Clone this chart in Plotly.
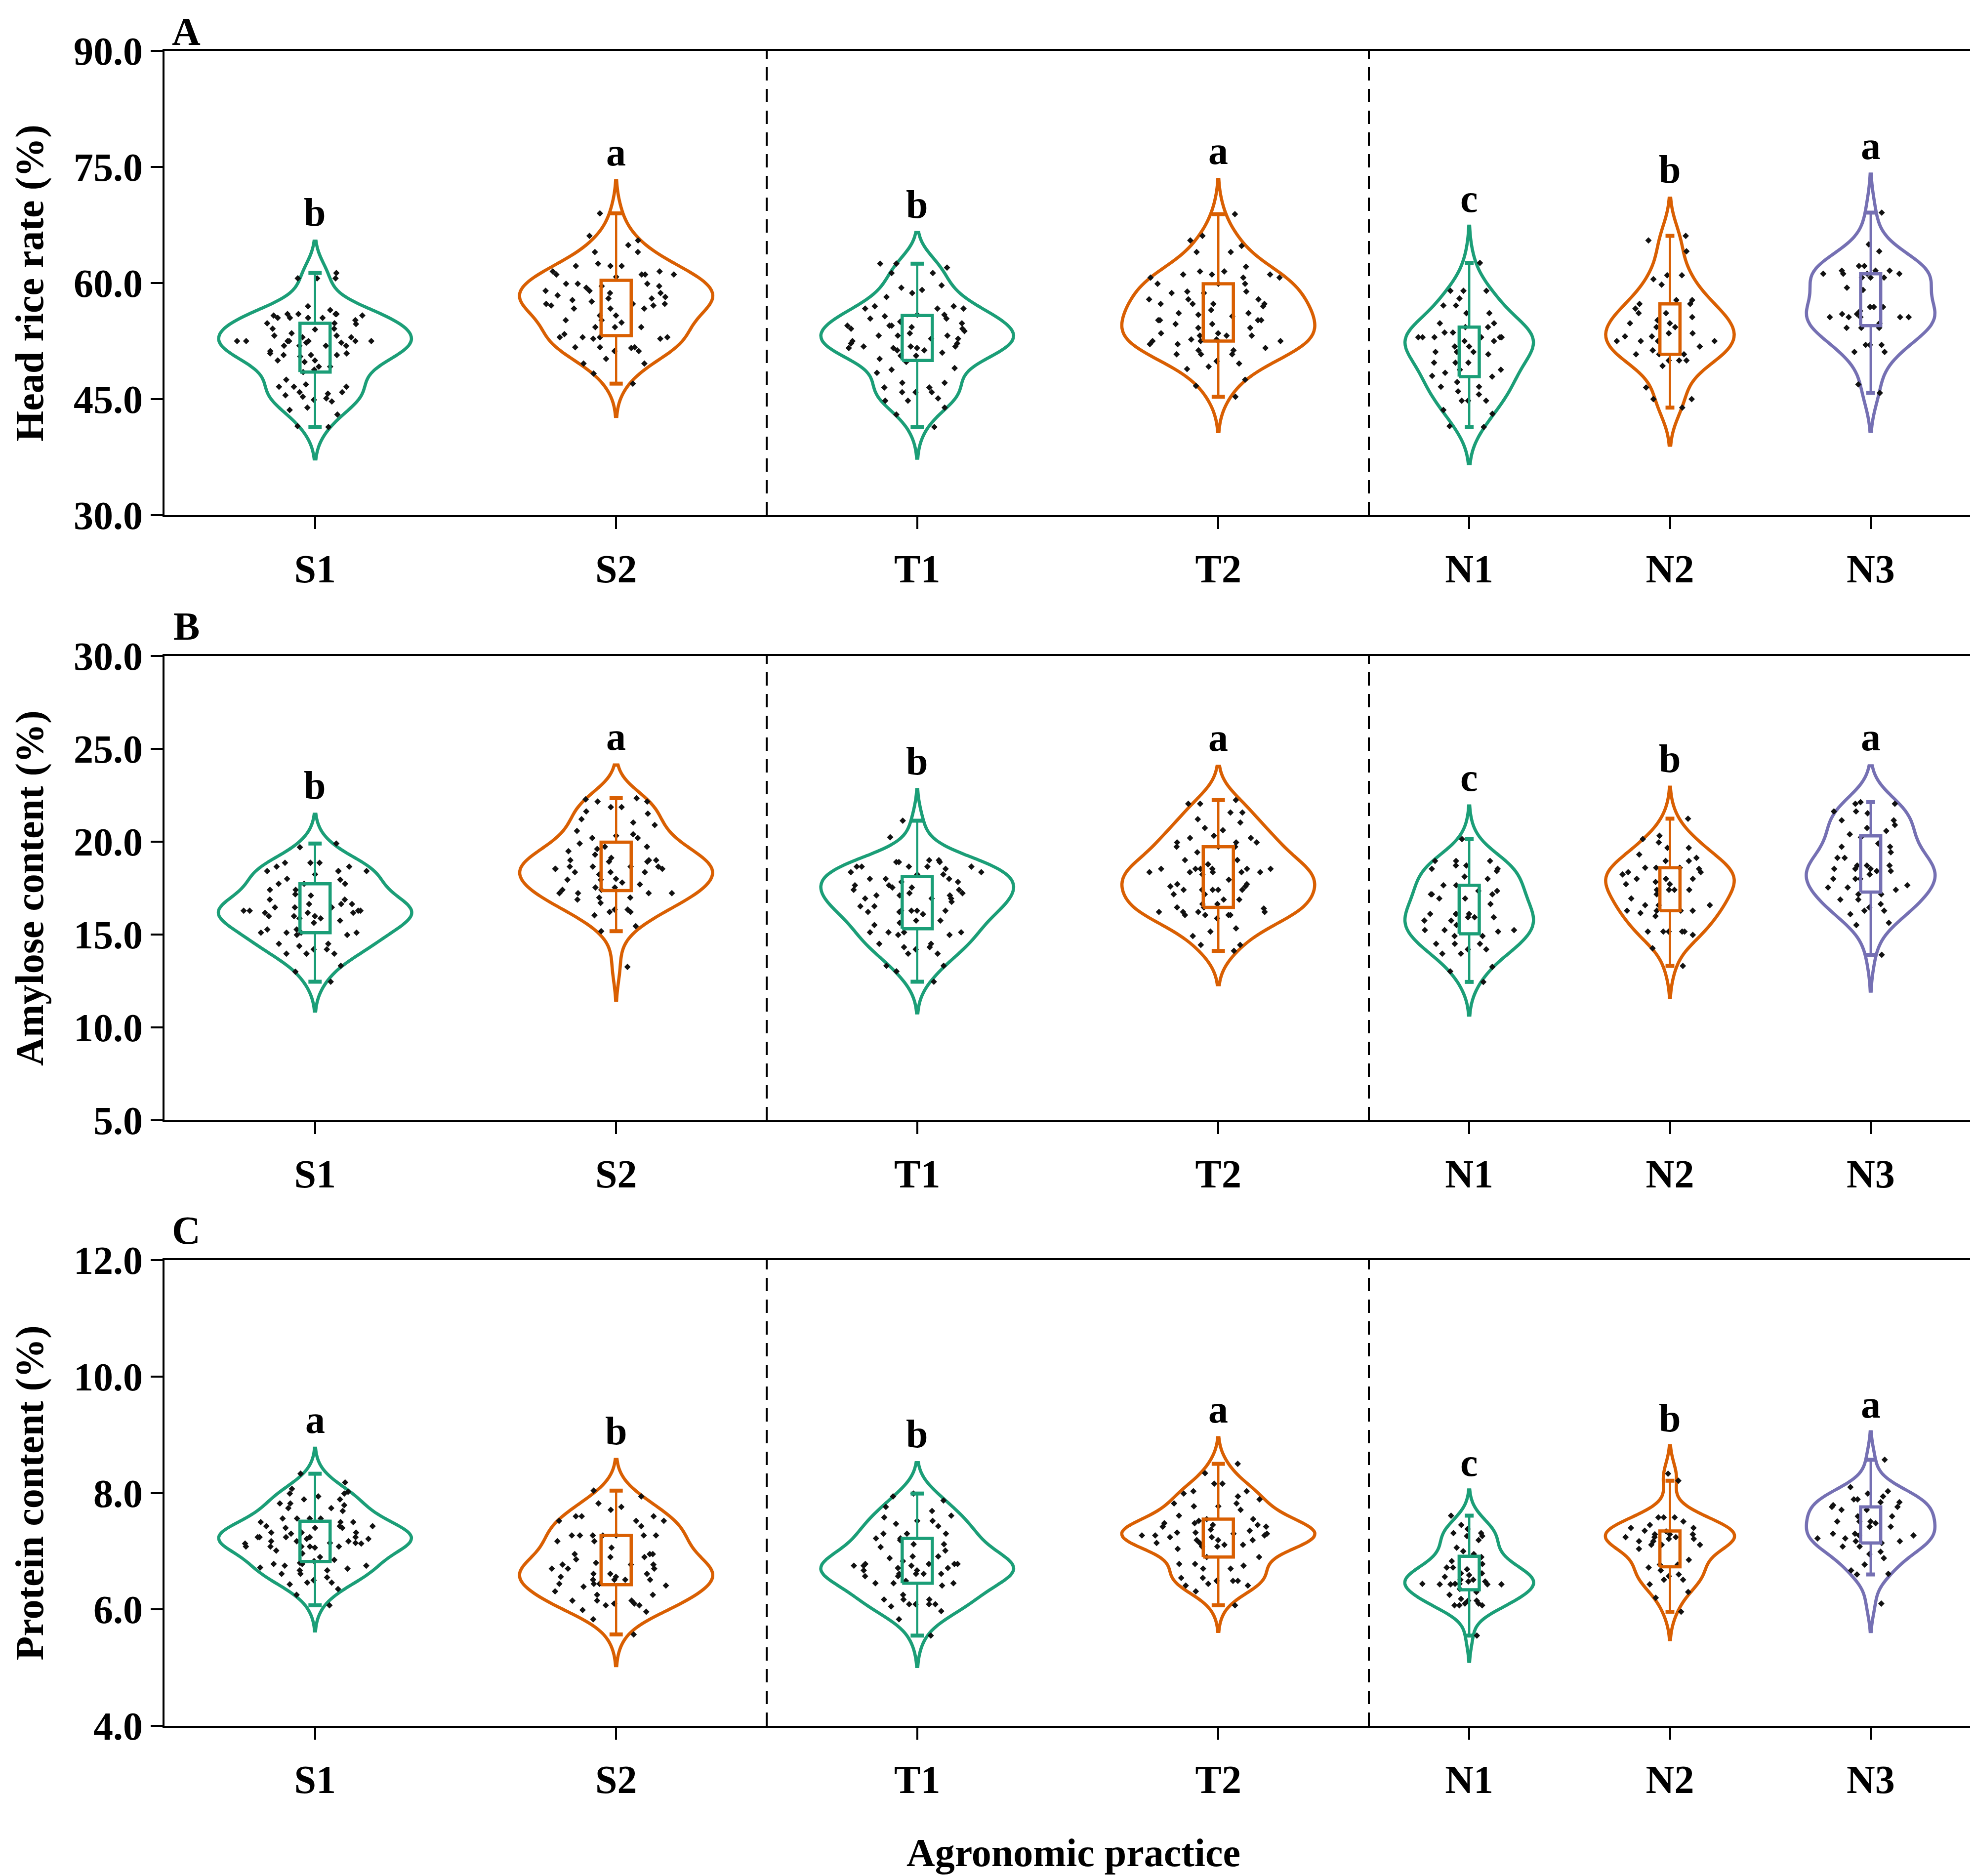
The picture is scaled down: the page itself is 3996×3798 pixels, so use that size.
import numpy as np
import plotly.graph_objects as go

FONT = "Liberation Serif"
OFF = 8                       # the page body margin of the browser
W, H = 3996 - OFF, 3798 - OFF

groups      = ["S1", "S2", "T1", "T2", "N1", "N2", "N3"]
group_x     = [1.5, 4.5, 7.5, 10.5, 13, 15, 17]
group_step  = [3, 3, 3, 3, 2, 2, 2]
group_color = ["#1b9e77", "#d95f02", "#1b9e77", "#d95f02", "#1b9e77", "#d95f02", "#7570b3"]
dividers    = [6, 12]

# Head rice rate (%)
head_s1 = [61.3, 60.6, 60.6, 60.6, 57.0, 56.5, 56.0, 56.0, 56.0, 56.0, 55.8, 55.8, 55.5, 55.5, 55.5, 55.5,
           55.2, 54.8, 54.8, 54.7, 54.1, 54.1, 54.0, 53.5, 53.2, 53.2, 53.0, 53.0, 52.5, 52.5, 52.5, 52.5,
           52.5, 52.5, 52.5, 52.3, 52.3, 51.9, 51.9, 51.9, 51.9, 51.2, 50.9, 50.9, 50.7, 50.7, 50.7, 50.5,
           50.0, 50.0, 49.8, 49.2, 49.2, 48.8, 48.5, 47.5, 46.9, 46.6, 46.6, 46.6, 45.9, 45.9, 45.7, 45.5,
           45.3, 45.1, 44.9, 44.7, 43.9, 43.6, 43.0, 41.5, 41.4]
head_s2 = [69.0, 66.1, 65.5, 64.9, 64.0, 64.0, 62.5, 62.2, 62.2, 62.2, 61.5, 61.5, 61.1, 61.1, 61.1, 61.1,
           60.8, 59.9, 59.9, 59.9, 59.6, 59.6, 59.4, 59.0, 59.0, 58.7, 58.7, 58.4, 58.2, 58.0, 58.0, 57.8,
           57.6, 57.3, 57.3, 57.3, 57.1, 57.1, 56.7, 56.7, 56.7, 55.8, 55.8, 55.2, 55.2, 54.9, 54.3, 54.3,
           54.3, 53.4, 53.0, 53.0, 53.0, 53.0, 52.8, 52.8, 51.7, 51.7, 51.7, 51.6, 51.2, 51.2, 50.2, 49.6,
           49.6, 48.3, 47.0]
head_t1 = [62.5, 62.5, 62.0, 61.3, 61.3, 59.7, 59.4, 59.1, 58.7, 58.2, 57.0, 57.0, 56.7, 56.7, 56.7, 55.9,
           55.9, 55.7, 55.4, 55.4, 55.0, 54.8, 54.5, 54.5, 54.5, 54.3, 54.1, 54.1, 53.8, 53.5, 53.2, 53.2,
           53.2, 52.8, 52.8, 52.5, 52.2, 52.2, 51.8, 51.8, 51.8, 51.6, 51.6, 51.6, 51.3, 51.3, 51.0, 50.6,
           50.6, 50.2, 49.8, 49.0, 48.8, 48.4, 47.1, 47.1, 46.5, 46.5, 45.9, 45.9, 45.9, 45.1, 44.8, 44.8,
           43.9, 43.0, 41.4]
head_t2 = [68.9, 66.1, 65.5, 64.8, 64.0, 64.0, 62.1, 61.5, 61.5, 61.1, 61.1, 61.1, 60.7, 60.7, 60.7, 59.9,
           59.9, 59.9, 58.9, 58.9, 58.7, 58.7, 57.9, 57.9, 57.9, 57.3, 57.3, 57.3, 57.3, 57.0, 56.5, 56.1,
           56.1, 55.9, 55.7, 55.2, 55.2, 55.2, 55.2, 54.7, 54.7, 54.2, 54.2, 53.5, 53.5, 53.2, 53.2, 53.2,
           52.7, 52.7, 52.5, 52.5, 52.5, 52.1, 52.1, 51.6, 51.3, 51.3, 50.8, 50.8, 50.8, 49.9, 49.6, 49.2,
           48.9, 47.5, 46.7, 45.3]
head_n1 = [62.6, 59.0, 59.0, 59.0, 58.0, 57.1, 57.1, 56.1, 56.1, 54.8, 54.8, 54.3, 54.3, 53.6, 53.6, 53.0,
           53.0, 53.0, 53.0, 53.0, 53.0, 52.5, 52.5, 51.8, 51.8, 51.1, 51.1, 51.1, 50.8, 49.7, 49.7, 49.7,
           48.8, 48.8, 48.4, 48.0, 47.9, 47.2, 46.6, 46.6, 46.0, 45.6, 44.8, 44.8, 44.8, 43.6, 43.1, 41.5,
           41.4]
head_n2 = [66.1, 65.5, 64.1, 61.0, 61.0, 60.5, 59.8, 57.8, 57.8, 57.3, 57.3, 56.7, 56.1, 56.1, 55.6, 55.2,
           54.8, 54.8, 54.3, 54.3, 53.5, 53.5, 53.1, 53.1, 52.5, 52.5, 52.5, 52.5, 51.8, 51.3, 50.8, 50.8,
           50.8, 50.0, 50.0, 50.0, 49.3, 46.5, 45.0, 45.0, 43.9]
head_n3 = [69.1, 65.0, 64.1, 62.2, 62.2, 61.6, 61.6, 61.6, 61.2, 61.2, 61.2, 61.2, 60.7, 60.7, 60.7, 59.4,
           59.1, 56.9, 56.9, 56.9, 56.4, 56.0, 56.0, 55.6, 55.6, 55.6, 55.6, 55.6, 54.8, 54.2, 54.2, 54.2,
           52.0, 52.0, 52.0, 51.1, 51.1, 46.9, 45.8]

# Amylose content (%)
amyl_s1 = [19.9, 19.7, 18.86, 18.86, 18.86, 18.66, 18.66, 18.42, 18.42, 18.42, 18.42, 18.24, 18.0, 17.95,
           17.73, 17.73, 17.73, 17.41, 17.41, 17.17, 17.1, 16.88, 16.88, 16.64, 16.64, 16.64, 16.46, 16.46,
           16.46, 16.28, 16.28, 16.28, 16.28, 16.17, 16.17, 16.17, 15.99, 15.99, 15.99, 15.87, 15.87, 15.75,
           15.63, 15.27, 15.27, 15.1, 15.1, 15.1, 15.1, 14.98, 14.98, 14.5, 14.5, 14.38, 14.2, 14.2, 13.97,
           13.97, 13.97, 13.32, 13.0, 12.46]
amyl_s2 = [22.34, 22.28, 22.16, 22.16, 21.86, 21.86, 21.63, 21.51, 21.21, 21.03, 20.9, 20.58, 20.4, 20.32,
           20.2, 20.2, 19.9, 19.73, 19.73, 19.61, 19.49, 19.3, 19.13, 19.0, 19.0, 19.0, 18.92, 18.92, 18.66,
           18.66, 18.66, 18.66, 18.54, 18.54, 18.54, 18.36, 18.36, 18.36, 18.24, 18.0, 17.95, 17.95, 17.8,
           17.7, 17.53, 17.53, 17.41, 17.41, 17.23, 17.23, 17.23, 17.23, 16.99, 16.99, 16.88, 16.7, 16.34,
           16.34, 16.22, 16.22, 16.04, 15.45, 15.18, 13.26]
amyl_t1 = [21.13, 20.24, 19.0, 19.0, 18.9, 18.9, 18.9, 18.66, 18.66, 18.66, 18.66, 18.66, 18.54, 18.36,
           18.36, 18.24, 18.24, 18.0, 18.0, 18.0, 17.83, 17.83, 17.65, 17.65, 17.53, 17.53, 17.41, 17.41,
           17.23, 17.23, 17.11, 17.11, 17.11, 16.94, 16.94, 16.94, 16.76, 16.52, 16.52, 16.28, 16.28, 16.28,
           16.28, 16.22, 16.22, 16.1, 15.75, 15.75, 15.63, 15.51, 15.12, 15.12, 15.12, 15.12, 14.98, 14.98,
           14.5, 14.5, 14.32, 14.32, 14.2, 13.97, 13.97, 13.32, 13.32, 13.02, 12.46]
amyl_t2 = [22.24, 22.04, 22.04, 21.57, 21.57, 21.21, 21.03, 20.74, 20.62, 20.32, 20.2, 20.2, 19.96, 19.96,
           19.96, 19.73, 19.73, 19.73, 19.43, 19.01, 19.01, 18.78, 18.54, 18.54, 18.54, 18.54, 18.54, 18.54,
           18.36, 18.36, 18.36, 18.36, 18.36, 18.24, 17.95, 17.71, 17.71, 17.59, 17.59, 17.41, 17.41, 17.41,
           17.41, 17.41, 17.17, 17.17, 16.88, 16.88, 16.64, 16.64, 16.46, 16.46, 16.4, 16.22, 16.22, 16.22,
           16.22, 16.05, 16.05, 16.05, 16.05, 15.87, 15.33, 15.16, 14.92, 14.44, 14.44, 14.12]
amyl_n1 = [20.14, 18.96, 18.96, 18.96, 18.72, 18.72, 18.54, 18.54, 18.42, 18.12, 18.0, 17.65, 17.65, 17.35,
           17.35, 17.17, 17.17, 17.17, 16.94, 16.94, 16.64, 16.11, 16.11, 16.11, 16.11, 15.93, 15.93, 15.93,
           15.75, 15.75, 15.51, 15.24, 15.24, 15.24, 15.16, 14.92, 14.92, 14.5, 14.5, 14.5, 14.2, 14.2, 13.97,
           13.97, 13.26, 13.02, 12.45]
amyl_n2 = [21.24, 20.32, 20.14, 19.96, 19.67, 19.67, 19.31, 19.13, 18.96, 18.96, 18.6, 18.6, 18.6, 18.54,
           18.36, 18.36, 18.24, 18.0, 18.0, 18.0, 17.83, 17.71, 17.71, 17.41, 17.41, 17.41, 17.41, 17.17,
           16.94, 16.58, 16.58, 16.58, 16.28, 16.28, 16.28, 16.28, 16.16, 15.99, 15.16, 15.16, 15.16, 15.16,
           15.16, 14.98, 14.26, 13.31]
amyl_n3 = [22.13, 22.04, 22.04, 21.63, 21.63, 21.53, 21.15, 21.15, 20.9, 20.74, 20.58, 20.4, 20.23, 19.9,
           19.73, 19.73, 19.43, 19.13, 19.13, 18.72, 18.72, 18.72, 18.54, 18.54, 18.54, 18.42, 18.42, 18.24,
           18.0, 18.0, 18.0, 17.65, 17.53, 17.53, 17.41, 17.17, 17.17, 16.88, 16.88, 16.64, 16.46, 16.28,
           16.28, 16.1, 15.63, 15.51, 13.91]

# Protein content (%)
prot_s1 = [8.33, 8.18, 8.07, 8.02, 7.99, 7.99, 7.94, 7.89, 7.89, 7.82, 7.82, 7.79, 7.74, 7.74, 7.69, 7.56,
           7.56, 7.56, 7.56, 7.5, 7.5, 7.5, 7.43, 7.43, 7.43, 7.4, 7.4, 7.4, 7.32, 7.32, 7.32, 7.3, 7.24,
           7.24, 7.24, 7.24, 7.24, 7.21, 7.21, 7.17, 7.17, 7.17, 7.14, 7.14, 7.13, 7.13, 7.08, 7.08, 7.08,
           7.08, 7.08, 7.06, 7.01, 6.96, 6.9, 6.85, 6.83, 6.8, 6.78, 6.78, 6.75, 6.75, 6.72, 6.7, 6.67, 6.67,
           6.61, 6.61, 6.55, 6.5, 6.46, 6.46, 6.43, 6.35, 6.25, 6.07]
prot_s2 = [8.04, 7.94, 7.82, 7.76, 7.71, 7.6, 7.6, 7.6, 7.52, 7.52, 7.52, 7.43, 7.27, 7.27, 7.27, 7.27,
           7.27, 7.27, 7.27, 7.17, 7.17, 7.06, 6.95, 6.95, 6.95, 6.9, 6.9, 6.86, 6.8, 6.77, 6.77, 6.77, 6.7,
           6.7, 6.7, 6.61, 6.61, 6.61, 6.56, 6.56, 6.51, 6.51, 6.51, 6.51, 6.44, 6.44, 6.44, 6.41, 6.39, 6.31,
           6.25, 6.25, 6.15, 6.15, 6.15, 6.1, 6.1, 6.07, 6.07, 5.99, 5.96, 5.83, 5.57]
prot_t1 = [7.99, 7.94, 7.87, 7.76, 7.69, 7.61, 7.58, 7.52, 7.52, 7.47, 7.43, 7.3, 7.3, 7.3, 7.22, 7.22,
           7.19, 7.12, 7.12, 7.07, 7.01, 6.91, 6.91, 6.88, 6.83, 6.78, 6.78, 6.78, 6.78, 6.75, 6.75, 6.75,
           6.71, 6.71, 6.67, 6.67, 6.61, 6.61, 6.61, 6.61, 6.57, 6.57, 6.49, 6.45, 6.45, 6.45, 6.41, 6.25,
           6.17, 6.17, 6.17, 6.09, 6.09, 6.09, 6.09, 6.05, 5.97, 5.83, 5.55]
prot_t2 = [8.5, 8.34, 8.16, 8.16, 8.03, 8.03, 7.99, 7.94, 7.89, 7.82, 7.82, 7.77, 7.77, 7.71, 7.61, 7.55,
           7.55, 7.52, 7.48, 7.48, 7.45, 7.45, 7.42, 7.42, 7.37, 7.35, 7.32, 7.32, 7.3, 7.3, 7.27, 7.27,
           7.27, 7.24, 7.24, 7.19, 7.19, 7.19, 7.14, 7.14, 7.11, 7.11, 7.08, 7.08, 7.04, 6.9, 6.9, 6.78,
           6.78, 6.75, 6.7, 6.7, 6.54, 6.54, 6.49, 6.49, 6.49, 6.44, 6.41, 6.41, 6.31, 6.07]
prot_n1 = [7.61, 7.45, 7.38, 7.31, 7.31, 7.26, 7.26, 7.19, 7.06, 7.0, 6.95, 6.9, 6.83, 6.78, 6.72, 6.72,
           6.69, 6.62, 6.62, 6.59, 6.56, 6.51, 6.51, 6.48, 6.48, 6.44, 6.44, 6.44, 6.43, 6.43, 6.43, 6.43,
           6.35, 6.3, 6.25, 6.18, 6.15, 6.15, 6.1, 6.1, 6.07, 6.07, 6.07, 5.55]
prot_n2 = [8.33, 8.21, 7.58, 7.58, 7.58, 7.51, 7.45, 7.4, 7.4, 7.35, 7.34, 7.29, 7.29, 7.29, 7.24, 7.24,
           7.24, 7.21, 7.21, 7.17, 7.17, 7.11, 7.11, 7.11, 7.04, 6.85, 6.77, 6.77, 6.72, 6.67, 6.6, 6.57,
           6.51, 6.51, 6.43, 6.3, 6.2, 5.96]
prot_n3 = [8.57, 8.1, 8.03, 7.99, 7.94, 7.89, 7.89, 7.84, 7.84, 7.79, 7.76, 7.76, 7.71, 7.71, 7.6, 7.6,
           7.51, 7.51, 7.51, 7.48, 7.42, 7.42, 7.3, 7.3, 7.27, 7.27, 7.22, 7.22, 7.17, 7.17, 7.14, 7.08,
           7.08, 6.99, 6.95, 6.88, 6.77, 6.67, 6.61, 6.6, 6.1]

head_letters = ["b", "a", "b", "a", "c", "b", "a"]
amyl_letters = ["b", "a", "b", "a", "c", "b", "a"]
prot_letters = ["a", "b", "b", "a", "c", "b", "a"]

# panel frames given in screen pixels
panels = [
    dict(label="A", title="Head rice rate (%)", rng=[30, 90], dtick=15, letters=head_letters,
         data=[head_s1, head_s2, head_t1, head_t2, head_n1, head_n2, head_n3], top=103, bottom=1043),
    dict(label="B", title="Amylose content (%)", rng=[5, 30], dtick=5, letters=amyl_letters,
         data=[amyl_s1, amyl_s2, amyl_t1, amyl_t2, amyl_n1, amyl_n2, amyl_n3], top=1328, bottom=2268),
    dict(label="C", title="Protein content (%)", rng=[4, 12], dtick=2, letters=prot_letters,
         data=[prot_s1, prot_s2, prot_t1, prot_t2, prot_n1, prot_n2, prot_n3], top=2551, bottom=3494),
]

PLOT_L, PLOT_R = 333, 3990
L_MARGIN = PLOT_L - OFF
R_MARGIN = W - (PLOT_R - OFF)
PLOT_W = PLOT_R - PLOT_L


def px(sx):
    return (sx - PLOT_L) / PLOT_W


def py(sy):
    return 1 - (sy - OFF) / H


def box_stats(vals):
    v = np.asarray(vals, dtype=float)
    q1, q3 = np.percentile(v, [25, 75])
    iqr = q3 - q1
    lo = v[v >= q1 - 1.5 * iqr].min()
    hi = v[v <= q3 + 1.5 * iqr].max()
    return q1, q3, lo, hi


def violin_top(vals):
    # upper end of the kde (Silverman bandwidth, 'soft' span)
    v = np.asarray(vals, dtype=float)
    q1, q3 = np.percentile(v, [25, 75])
    bw = 1.059 * min(v.std(ddof=1), (q3 - q1) / 1.349) * len(v) ** -0.2
    return v.max() + 2 * bw


bold = dict(family=FONT, size=80, color="black", weight="bold")

fig = go.Figure()
annotations = []
shapes = []

for p, panel in enumerate(panels):

    xa = "x" if p == 0 else "x%d" % (p + 1)
    ya = "y" if p == 0 else "y%d" % (p + 1)

    for g, vals in enumerate(panel["data"]):

        xc    = group_x[g]
        step  = group_step[g]
        color = group_color[g]

        fig.add_trace(go.Violin(
            x0=xc, y=vals, xaxis=xa, yaxis=ya, name=groups[g],
            width=0.64 * step, scalemode="width", spanmode="soft",
            line=dict(color=color, width=6.5), fillcolor="rgba(0,0,0,0)",
            points="all", pointpos=0, jitter=0.85,
            marker=dict(symbol="diamond", size=10, color="#111111", line=dict(width=0)),
            box_visible=False, meanline_visible=False, hoveron="points",
            showlegend=False,
        ))

        q1, q3, lo, hi = box_stats(vals)
        bw = 0.05 * step
        cw = 0.022 * step

        fig.add_trace(go.Scatter(
            x=[xc, xc, None, xc, xc], y=[q3, hi, None, q1, lo], xaxis=xa, yaxis=ya,
            mode="lines", line=dict(color=color, width=4.5), hoverinfo="skip", showlegend=False,
        ))
        fig.add_trace(go.Scatter(
            x=[xc - cw, xc + cw, None, xc - cw, xc + cw], y=[hi, hi, None, lo, lo], xaxis=xa, yaxis=ya,
            mode="lines", line=dict(color=color, width=8), hoverinfo="skip", showlegend=False,
        ))
        fig.add_trace(go.Scatter(
            x=[xc - bw, xc + bw, xc + bw, xc - bw, xc - bw], y=[q1, q1, q3, q3, q1], xaxis=xa, yaxis=ya,
            mode="lines", line=dict(color=color, width=6.5), hoverinfo="skip", showlegend=False,
        ))

        annotations.append(dict(
            x=xc, y=violin_top(vals), xref=xa, yref=ya, text=panel["letters"][g],
            showarrow=False, xanchor="center", yanchor="bottom", yshift=12, font=bold,
        ))

    for d in dividers:
        shapes.append(dict(
            type="line", xref=xa, yref=ya + " domain", x0=d, x1=d, y0=0, y1=1,
            line=dict(color="black", width=4, dash="27px,17px"),
        ))

    mid = (panel["top"] + panel["bottom"]) / 2

    annotations.append(dict(
        x=px(60), y=py(mid), xref="paper", yref="paper",
        text=panel["title"], textangle=-90, showarrow=False,
        xanchor="center", yanchor="middle", font=bold,
    ))
    annotations.append(dict(
        x=px(377), y=py(max(panel["top"] - 60, 64)), xref="paper", yref="paper",
        text=panel["label"], showarrow=False, xanchor="center", yanchor="middle", font=bold,
    ))

    axis_common = dict(
        showline=True, linecolor="black", linewidth=4, mirror=True,
        ticks="outside", ticklen=24, tickwidth=4, tickcolor="black",
        showgrid=False, zeroline=False, tickfont=bold, automargin=False,
    )

    fig.update_layout({
        ("xaxis" if p == 0 else "xaxis%d" % (p + 1)): dict(
            axis_common, domain=[0, 1], anchor=ya, range=[0, 18],
            tickvals=group_x, ticktext=groups, ticklabelstandoff=12,
        ),
        ("yaxis" if p == 0 else "yaxis%d" % (p + 1)): dict(
            axis_common, domain=[py(panel["bottom"]), py(panel["top"])], anchor=xa,
            range=panel["rng"], dtick=panel["dtick"], tick0=panel["rng"][0],
            tickformat=".1f", ticklabelstandoff=0,
        ),
    })

annotations.append(dict(
    x=px(2173), y=py(3751), xref="paper", yref="paper",
    text="Agronomic practice", showarrow=False, xanchor="center", yanchor="middle", font=bold,
))

fig.update_layout(
    width=W, height=H,
    margin=dict(l=L_MARGIN, r=R_MARGIN, t=0, b=0, autoexpand=False),
    paper_bgcolor="white", plot_bgcolor="white",
    violinmode="overlay", showlegend=False,
    annotations=annotations, shapes=shapes,
)

fig.write_html("out.html")
